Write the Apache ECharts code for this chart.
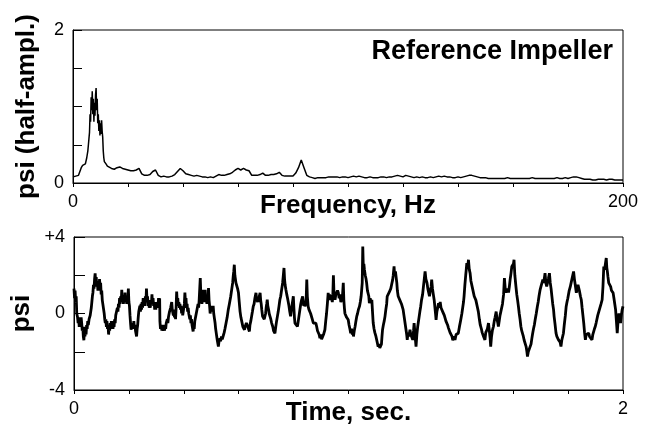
<!DOCTYPE html>
<html>
<head>
<meta charset="utf-8">
<script src="https://cdn.jsdelivr.net/npm/echarts@6/dist/echarts.min.js"></script>
<style>html,body{margin:0;padding:0;background:#fff;}#c{width:645px;height:428px;}</style>
</head>
<body>
<div id="c"></div>
<script>
// Spectrum: [frequency Hz, psi half-amplitude]
const spectrum = [
[0,0.08],[1,0.09],[2,0.10],[3,0.20],[3.5,0.23],[4,0.22],[4.5,0.25],[5,0.33],
[5.4,0.42],[5.6,0.50],[5.8,0.58],[6.0,0.66],[6.2,0.90],[6.4,0.80],[6.6,1.12],[6.8,0.95],[7.0,1.20],[7.2,0.90],
[7.4,1.10],[7.6,0.80],[7.8,1.05],[8.0,0.88],[8.2,1.15],[8.4,1.24],[8.6,0.95],[8.8,1.10],[9.0,0.78],[9.2,0.90],
[9.4,0.68],[9.6,0.82],[9.8,0.62],[10.0,0.78],[10.2,0.64],[10.4,0.82],[10.6,0.68],[10.8,0.60],[11.0,0.42],[11.2,0.33],[11.4,0.28],
[12,0.25],[12.5,0.22],[13,0.21],[14,0.19],[15,0.18],[16,0.20],[17,0.21],[18,0.19],[19,0.18],[20,0.17],
[21,0.16],[22,0.16],[23,0.17],[24,0.19],[25,0.12],[26,0.10],[27,0.10],[28,0.11],[29,0.15],[30,0.17],
[31,0.10],[32,0.08],[33,0.09],[34,0.08],[35,0.08],[36,0.09],[37,0.11],[38,0.15],[39,0.19],[40,0.16],
[41,0.12],[42,0.11],[43,0.10],[44,0.09],[45,0.10],[46,0.09],[47,0.08],[48,0.08],[49,0.07],[50,0.08],
[51,0.07],[52,0.09],[53,0.11],[54,0.10],[55,0.10],[56,0.11],[57,0.12],[58,0.14],[59,0.17],[60,0.19],
[61,0.17],[62,0.19],[63,0.17],[64,0.16],[65,0.10],[66,0.10],[67,0.10],[68,0.11],[69,0.13],[70,0.10],
[71,0.10],[72,0.11],[73,0.11],[74,0.12],[75,0.14],[76,0.10],[77,0.09],[78,0.09],[79,0.09],[80,0.09],
[81,0.13],[82,0.20],[83,0.30],[84,0.20],[85,0.10],[86,0.08],[87,0.07],[88,0.06],[89,0.07],[90,0.07],
[91,0.07],[92,0.07],[93,0.08],[94,0.08],[95,0.08],[96,0.08],[97,0.07],[98,0.08],[99,0.08],[100,0.07],
[101,0.08],[102,0.09],[103,0.08],[104,0.09],[105,0.08],[106,0.07],[107,0.07],[108,0.08],[109,0.07],[110,0.07],
[111,0.07],[112,0.08],[113,0.08],[114,0.07],[115,0.08],[116,0.08],[117,0.09],[118,0.10],[119,0.09],[120,0.08],
[121,0.10],[122,0.09],[123,0.08],[124,0.07],[125,0.08],[126,0.07],[127,0.08],[128,0.07],[129,0.07],[130,0.08],
[131,0.07],[132,0.08],[133,0.09],[134,0.08],[135,0.09],[136,0.08],[137,0.08],[138,0.07],[139,0.07],[140,0.08],
[141,0.07],[142,0.08],[143,0.09],[144,0.10],[145,0.10],[146,0.09],[147,0.08],[148,0.07],[149,0.07],[150,0.07],
[151,0.06],[152,0.06],[153,0.06],[154,0.06],[155,0.06],[156,0.06],[157,0.06],[158,0.07],[159,0.06],[160,0.06],
[161,0.06],[162,0.06],[163,0.06],[164,0.06],[165,0.06],[166,0.06],[167,0.07],[168,0.06],[169,0.06],[170,0.06],
[171,0.06],[172,0.06],[173,0.06],[174,0.06],[175,0.06],[176,0.07],[177,0.06],[178,0.06],[179,0.07],[180,0.06],
[181,0.07],[182,0.08],[183,0.08],[184,0.07],[185,0.06],[186,0.05],[187,0.05],[188,0.05],[189,0.04],[190,0.04],
[191,0.05],[192,0.05],[193,0.05],[194,0.04],[195,0.05],[196,0.05],[197,0.04],[198,0.04],[199,0.04],[200,0.04]
];

// Time trace: [time s, psi]
const timeTrace = [
[0,1.3],[0.002,0.8],[0.004,1.2],[0.006,0.6],[0.008,0.9],[0.01,0.0],[0.013,-0.2],[0.015,-0.5],[0.017,-0.2],[0.019,-0.7],[0.022,-0.3],[0.024,-0.6],[0.026,-0.2],[0.028,-0.5],[0.03,-0.9],[0.032,-0.7],[0.034,-1.2],[0.036,-1.4],[0.038,-0.9],[0.04,-1.2],[0.042,-0.7],[0.044,-1.1],[0.046,-0.6],[0.048,-0.8],[0.05,-0.4],[0.052,-0.6],[0.055,-0.3],[0.057,-0.4],[0.059,-0.1],[0.061,0.0],[0.063,0.3],[0.065,0.6],[0.067,0.9],[0.069,1.1],[0.071,1.5],[0.073,1.3],[0.075,1.8],[0.077,2.1],[0.079,1.6],[0.081,1.9],[0.083,1.4],[0.085,1.7],[0.087,1.2],[0.089,1.6],[0.091,1.2],[0.093,1.8],[0.095,1.4],[0.097,1.6],[0.099,1.0],[0.101,1.2],[0.103,0.7],[0.105,0.6],
[0.108,0.2],[0.110,0.0],[0.112,-0.3],[0.114,-0.5],[0.116,-0.3],[0.118,-0.7],[0.12,-0.4],[0.122,-0.8],[0.124,-0.6],[0.126,-1.1],[0.128,-0.7],[0.13,-0.9],[0.132,-0.5],[0.134,-0.8],[0.136,-0.4],[0.138,-0.7],[0.14,-0.4],[0.142,-0.8],[0.144,-0.5],[0.146,-0.7],[0.148,-0.3],[0.15,-0.5],[0.152,-0.1],[0.155,-0.2],[0.158,0.3],[0.16,0.1],[0.162,0.5],[0.164,0.3],[0.166,0.8],[0.168,0.5],[0.17,0.9],[0.172,0.6],[0.174,1.24],[0.176,0.7],[0.178,0.9],[0.18,0.5],[0.182,0.8],[0.184,0.6],[0.186,1.1],[0.188,0.6],[0.19,0.9],[0.192,0.5],[0.194,0.8],[0.196,0.6],[0.198,1.3],[0.2,0.6],[0.202,0.4],[0.204,-0.1],
[0.206,-0.5],[0.208,-0.85],[0.21,-0.6],[0.212,-0.8],[0.214,-0.5],[0.216,-0.7],[0.218,-0.4],[0.22,-0.8],[0.222,-0.6],[0.224,-0.9],[0.226,-1.0],[0.228,-1.2],[0.23,-0.8],[0.232,-0.6],[0.234,-0.2],[0.236,0.1],[0.238,0.0],[0.24,0.4],[0.242,0.1],[0.244,0.5],[0.246,0.2],[0.248,0.6],[0.25,0.3],[0.252,0.8],[0.254,0.4],[0.256,0.7],[0.258,0.4],[0.26,0.9],[0.262,0.6],[0.264,1.3],[0.266,0.7],[0.268,0.9],[0.27,0.4],[0.272,0.7],[0.274,0.3],[0.276,0.6],[0.278,0.3],[0.28,0.7],[0.282,0.5],[0.284,1.0],[0.286,0.5],[0.288,0.8],[0.29,0.4],[0.292,0.6],[0.294,0.2],[0.296,0.5],[0.298,0.2],[0.3,0.6],
[0.302,0.3],[0.304,0.6],[0.306,0.4],[0.308,0.8],[0.31,0.5],[0.312,0.8],[0.313,-0.4],[0.315,-0.8],[0.318,-0.6],[0.32,-0.9],[0.322,-0.6],[0.325,-0.9],[0.328,-0.7],[0.33,-0.9],[0.332,-0.6],[0.334,-0.8],[0.336,-0.5],[0.338,-0.6],[0.34,-0.3],[0.342,-0.5],[0.344,-0.2],[0.346,-0.3],[0.348,0.1],[0.35,0.0],[0.352,0.3],[0.354,0.2],[0.356,0.6],[0.358,0.2],[0.36,0.3],[0.362,-0.1],[0.364,0.2],[0.366,-0.2],[0.368,0.1],[0.37,-0.3],[0.372,0.3],[0.374,1.15],[0.376,0.6],[0.378,0.8],[0.38,0.4],[0.382,0.6],[0.384,0.3],[0.386,0.5],[0.388,0.2],[0.39,0.4],[0.392,0.0],[0.394,0.2],[0.396,-0.1],[0.398,0.1],[0.4,0.0],[0.402,0.5],[0.404,1.1],[0.406,0.6],
[0.408,0.8],[0.41,0.3],[0.412,0.5],[0.414,0.1],[0.416,0.3],[0.418,0.0],[0.42,0.1],[0.422,-0.3],[0.424,-0.1],[0.426,-0.5],[0.428,-0.3],[0.43,-0.6],[0.432,-0.5],[0.434,-0.94],[0.436,-0.6],[0.438,-0.8],[0.44,-0.4],[0.442,-0.5],[0.444,-0.1],[0.446,-0.2],[0.448,0.2],[0.45,0.1],[0.452,0.5],[0.454,0.3],[0.456,0.7],[0.458,0.6],[0.46,1.85],[0.462,1.0],[0.464,0.8],[0.466,0.5],[0.468,0.9],[0.47,1.24],[0.472,0.7],[0.474,0.9],[0.476,0.6],[0.478,1.24],[0.48,0.6],[0.482,0.9],[0.484,0.5],[0.486,0.9],[0.488,0.6],[0.49,1.33],[0.492,0.7],[0.494,0.4],[0.496,0.0],[0.498,0.3],[0.5,0.1],[0.503,0.4],[0.505,0.2],[0.507,0.4],[0.509,0.0],[0.511,-0.2],
[0.514,-0.5],[0.516,-0.8],[0.518,-1.0],[0.52,-1.2],[0.522,-1.4],[0.524,-1.5],[0.526,-1.73],[0.528,-1.5],[0.53,-1.6],[0.532,-1.3],[0.534,-1.45],[0.537,-1.2],[0.54,-1.35],[0.544,-1.15],[0.547,-1.0],[0.55,-0.8],[0.554,-0.5],[0.558,-0.2],[0.562,0.2],[0.566,0.5],[0.571,0.9],[0.575,1.3],[0.578,1.6],[0.58,1.94],[0.582,2.2],[0.584,2.55],[0.586,2.0],[0.588,1.9],[0.59,1.6],[0.593,1.7],[0.596,1.3],[0.599,1.1],[0.602,0.6],[0.605,0.1],[0.608,-0.2],[0.611,-0.4],[0.615,-0.68],
[0.618,-0.6],[0.621,-0.85],[0.623,-0.7],[0.626,-0.8],[0.628,-0.5],[0.63,-0.6],[0.633,-0.7],[0.636,-0.6],[0.639,-0.94],[0.641,-0.6],[0.644,-0.4],[0.647,-0.15],[0.65,0.1],[0.653,0.37],[0.656,0.5],[0.659,0.8],[0.661,0.7],[0.663,1.08],[0.665,0.8],[0.667,0.9],[0.669,0.6],[0.671,0.72],[0.673,0.6],[0.675,0.9],[0.678,1.08],[0.68,0.7],[0.682,0.5],[0.684,0.2],[0.687,-0.15],[0.69,-0.1],[0.693,-0.3],[0.696,-0.33],[0.698,0.0],[0.7,0.3],[0.702,0.5],[0.704,0.72],[0.706,0.4],[0.709,0.2],[0.711,0.0],[0.714,-0.15],
[0.717,-0.3],[0.72,-0.5],[0.722,-0.6],[0.724,-0.68],[0.727,-0.9],[0.73,-0.8],[0.732,-1.03],[0.735,-0.7],[0.738,-0.4],[0.741,-0.15],[0.744,0.1],[0.747,0.4],[0.75,0.72],[0.753,0.9],[0.756,1.2],[0.758,1.4],[0.76,1.6],[0.762,1.9],[0.765,2.38],[0.767,1.8],[0.769,1.5],[0.772,1.24],[0.775,1.0],[0.778,0.8],[0.78,0.72],[0.783,0.4],[0.786,0.1],[0.789,-0.15],[0.792,0.2],[0.795,0.5],[0.797,0.7],[0.799,0.9],[0.801,0.3],[0.803,-0.2],[0.805,-0.5],[0.808,-0.4],[0.811,-0.6],[0.814,-0.68],[0.817,-0.4],[0.82,-0.1],[0.823,0.2],
[0.826,0.5],[0.829,0.7],[0.831,0.6],[0.833,0.9],[0.835,0.6],[0.837,0.4],[0.839,0.6],[0.841,0.37],[0.844,0.5],[0.846,0.8],[0.848,1.77],[0.85,0.9],[0.853,0.37],[0.856,0.2],[0.859,0.3],[0.862,0.0],[0.865,-0.1],[0.868,-0.3],[0.872,-0.5],[0.875,-0.4],[0.878,-0.6],[0.881,-0.5],[0.884,-0.68],[0.887,-0.9],[0.89,-0.8],[0.893,-1.1],[0.896,-1.29],[0.899,-1.1],[0.902,-1.35],[0.906,-1.38],[0.909,-1.1],[0.912,-1.2],[0.914,-0.85],[0.917,-0.4],[0.92,0.0],[0.923,0.5],[0.926,1.08],[0.929,0.7],[0.932,1.0],[0.935,0.7],[0.938,0.9],[0.941,0.6],[0.943,1.0],[0.945,2.0],[0.947,1.1],[0.949,0.9],[0.951,0.72],
[0.954,1.0],[0.957,0.9],[0.96,1.2],[0.963,1.08],[0.966,0.8],[0.969,1.0],[0.972,0.6],[0.975,0.72],[0.978,0.9],[0.981,1.6],[0.983,0.7],[0.985,0.3],[0.987,0.0],[0.99,0.1],[0.993,-0.2],[0.996,-0.1],[0.999,-0.33],[1.002,-0.6],[1.005,-0.8],[1.008,-1.03],[1.011,-0.8],[1.014,-1.1],[1.016,-0.9],[1.018,-1.2],[1.021,-0.9],[1.024,-0.68],[1.027,-0.4],[1.03,-0.15],[1.033,0.0],[1.036,0.2],[1.04,0.37],[1.043,0.6],[1.046,0.9],[1.048,1.24],[1.05,1.6],[1.052,3.5],[1.054,2.4],[1.056,2.6],[1.058,2.29],[1.061,2.0],[1.064,1.8],[1.066,1.6],[1.069,1.2],[1.072,1.3],[1.074,0.9],[1.076,0.54],[1.079,0.8],[1.082,0.6],[1.085,0.72],[1.087,0.2],[1.09,-0.5],
[1.093,-0.8],[1.096,-1.0],[1.1,-1.2],[1.103,-1.4],[1.106,-1.5],[1.108,-1.73],[1.111,-1.6],[1.114,-1.8],[1.117,-1.9],[1.12,-1.6],[1.122,-1.2],[1.124,-0.85],[1.127,-0.6],[1.13,-0.4],[1.133,-0.15],[1.136,0.2],[1.139,0.5],[1.141,0.9],[1.144,0.8],[1.148,1.1],[1.151,1.08],[1.154,1.3],[1.157,1.5],[1.161,1.77],[1.163,2.0],[1.166,2.46],[1.168,2.0],[1.171,2.2],[1.173,2.11],[1.176,1.6],[1.178,1.2],[1.181,0.9],[1.184,1.0],[1.187,0.7],[1.19,0.72],[1.193,0.5],[1.196,0.4],[1.199,0.2],[1.202,-0.1],[1.206,-0.5],
[1.209,-0.8],[1.212,-1.1],[1.214,-1.38],[1.217,-1.0],[1.22,-1.2],[1.224,-0.85],[1.227,-1.1],[1.23,-1.0],[1.234,-1.38],[1.237,-0.9],[1.239,-0.5],[1.242,-1.0],[1.244,-1.4],[1.246,-1.73],[1.249,-1.1],[1.252,-0.7],[1.254,-0.5],[1.257,-0.2],[1.26,0.1],[1.263,0.37],[1.266,0.7],[1.27,1.0],[1.273,1.41],[1.276,1.8],[1.279,2.2],[1.282,1.8],[1.284,1.9],[1.286,1.6],[1.289,1.3],[1.292,1.1],[1.295,0.9],[1.298,1.2],[1.301,1.4],[1.303,1.77],[1.306,1.3],[1.309,1.0],[1.312,0.72],[1.315,0.3],[1.317,0.0],[1.319,-0.33],[1.322,0.1],[1.325,0.3],[1.328,0.54],[1.331,0.3],[1.334,0.6],[1.337,0.3],[1.34,0.37],
[1.343,0.1],[1.346,0.2],[1.349,-0.1],[1.352,-0.15],[1.355,-0.4],[1.358,-0.3],[1.361,-0.6],[1.364,-0.75],[1.367,-0.8],[1.37,-1.0],[1.374,-1.1],[1.377,-1.2],[1.38,-1.4],[1.384,-1.2],[1.388,-1.38],[1.392,-1.1],[1.396,-1.2],[1.4,-1.03],[1.404,-0.7],[1.408,-0.4],[1.413,0.0],[1.416,0.3],[1.419,0.6],[1.421,0.9],[1.424,1.5],[1.427,2.0],[1.429,2.3],[1.431,2.64],[1.434,2.4],[1.437,2.81],[1.44,2.3],[1.443,2.11],[1.446,1.7],[1.449,1.6],[1.452,1.3],[1.455,1.24],[1.458,0.9],[1.461,1.0],[1.464,0.7],[1.467,0.72],[1.47,0.3],[1.473,0.1],[1.477,-0.33],
[1.48,-0.6],[1.484,-0.8],[1.487,-1.0],[1.489,-1.03],[1.492,-1.2],[1.495,-1.1],[1.497,-1.38],[1.5,-1.0],[1.503,-1.1],[1.506,-0.8],[1.51,-0.5],[1.513,-0.9],[1.516,-1.3],[1.518,-1.73],[1.521,-1.2],[1.524,-0.9],[1.528,-0.68],[1.531,-0.4],[1.534,-0.2],[1.538,0.1],[1.541,-0.3],[1.544,-0.5],[1.546,-0.68],[1.549,-0.4],[1.552,-0.1],[1.555,0.1],[1.558,0.0],[1.561,0.5],[1.565,1.0],[1.568,1.85],[1.571,1.3],[1.574,1.1],[1.577,1.08],[1.58,1.3],[1.583,1.1],[1.586,1.41],[1.589,1.8],[1.592,2.1],[1.595,2.46],[1.598,2.4],[1.601,2.6],[1.603,2.81],[1.606,2.0],[1.608,1.7],[1.61,1.41],[1.613,1.0],[1.616,0.7],[1.619,0.37],
[1.622,0.0],[1.625,-0.3],[1.628,-0.68],[1.631,-0.9],[1.634,-1.0],[1.637,-1.2],[1.64,-1.4],[1.644,-1.5],[1.647,-1.73],[1.65,-2.0],[1.652,-2.25],[1.655,-2.0],[1.658,-2.1],[1.662,-1.9],[1.665,-1.6],[1.668,-1.3],[1.671,-1.03],[1.674,-0.8],[1.677,-0.6],[1.68,-0.33],[1.684,0.0],[1.688,0.37],[1.691,0.6],[1.694,0.9],[1.698,1.24],[1.701,1.4],[1.704,1.5],[1.708,1.77],[1.711,1.6],[1.714,1.9],[1.716,2.11],[1.719,1.6],[1.722,1.41],[1.725,1.6],[1.728,1.8],[1.73,1.7],[1.732,2.11],[1.735,1.6],[1.738,1.3],[1.741,0.9],[1.744,0.5],[1.747,0.2],[1.749,-0.15],
[1.752,-0.5],[1.756,-1.03],[1.759,-1.2],[1.762,-1.1],[1.765,-1.38],[1.768,-1.3],[1.771,-1.5],[1.774,-1.73],[1.777,-1.4],[1.78,-1.3],[1.783,-1.03],[1.786,-0.6],[1.79,-0.1],[1.793,0.37],[1.796,0.6],[1.799,0.8],[1.801,0.9],[1.804,1.2],[1.808,1.4],[1.811,1.6],[1.814,1.8],[1.817,2.0],[1.82,2.2],[1.823,1.8],[1.826,1.5],[1.83,1.08],[1.833,1.3],[1.836,1.5],[1.838,1.6],[1.841,1.2],[1.845,0.9],[1.848,0.72],[1.851,0.3],[1.854,-0.1],[1.857,-0.5],[1.86,-1.0],[1.863,-1.38],
[1.866,-1.1],[1.869,-1.2],[1.872,-1.0],[1.875,-1.03],[1.878,-1.2],[1.881,-1.1],[1.884,-1.3],[1.887,-1.38],[1.89,-1.1],[1.893,-1.0],[1.896,-0.8],[1.899,-0.68],[1.902,-0.5],[1.905,-0.3],[1.908,-0.1],[1.911,0.0],[1.914,0.2],[1.917,0.3],[1.92,0.5],[1.924,0.72],[1.927,1.4],[1.93,2.46],[1.933,2.3],[1.936,2.6],[1.939,2.9],[1.941,2.4],[1.943,2.2],[1.945,1.94],[1.948,1.6],[1.951,1.7],[1.955,1.41],[1.958,1.2],[1.961,1.3],[1.964,1.08],[1.967,0.8],[1.97,0.5],[1.973,0.2],[1.976,-0.4],[1.979,-1.03],[1.982,-0.4],[1.985,0.0],[1.988,-0.3],[1.991,-0.5],[1.994,-0.1],[1.997,0.2],[2.0,0.37]
];

const freqLabels = {0:'0', 200:'200'};
const ampLabels = {0:'0', 2:'2'};
const timeLabels = {0:'0', 2:'2'};
const psiLabels = {'-4':'-4', '0':'0', '4':'+4'};

const FONT = "'Liberation Sans', Arial, Helvetica, sans-serif";
const chart = echarts.init(document.getElementById('c'), null, {renderer:'canvas'});

function xAxisCfg(gridIndex, max, interval, labels, name) {
  return {
    type:'value', gridIndex, position:'bottom', min:0, max, interval,
    name, nameLocation:'middle', nameGap:10, nameMoveOverlap:false,
    nameTextStyle:{fontFamily:FONT, fontSize:26, fontWeight:'bold', color:'#000'},
    axisLine:{show:true, onZero:false, lineStyle:{color:'#000', width:1}},
    axisTick:{show:true, inside:false, length:4, lineStyle:{color:'#000', width:1}},
    axisLabel:{show:true, margin:10, fontFamily:FONT, fontSize:18, color:'#000',
      formatter:v => (labels[v] !== undefined ? labels[v] : ''),
      showMinLabel:true, showMaxLabel:true},
    splitLine:{show:false}
  };
}
function yAxisCfg(gridIndex, min, max, interval, labels, name, nameGap, tickLen) {
  return {
    type:'value', gridIndex, position:'left', min, max, interval,
    name, nameLocation:'middle', nameGap, nameRotate:90, nameMoveOverlap:false,
    nameTextStyle:{fontFamily:FONT, fontSize:26, fontWeight:'bold', color:'#000'},
    axisLine:{show:true, onZero:false, lineStyle:{color:'#000', width:1}},
    axisTick:{show:true, inside:true, length:tickLen, lineStyle:{color:'#000'}},
    axisLabel:{show:true, margin:9, fontFamily:FONT, fontSize:18, color:'#000',
      formatter:v => (labels[String(v)] !== undefined ? labels[String(v)] : ''),
      showMinLabel:true, showMaxLabel:true},
    splitLine:{show:false}
  };
}

chart.setOption({
  animation:false,
  backgroundColor:'#fff',
  title:{text:'Reference Impeller', right:27, top:33,
    textStyle:{fontFamily:FONT, fontSize:27, fontWeight:'bold', color:'#000'}},
  grid:[
    {left:73, right:22, top:30, height:153, show:true, borderColor:'#000', borderWidth:1,
     containLabel:false, outerBoundsMode:'none'},
    {left:74, right:22, top:237, height:153, show:true, borderColor:'#000', borderWidth:1,
     containLabel:false, outerBoundsMode:'none'}
  ],
  xAxis:[
    xAxisCfg(0, 200, 20, freqLabels, 'Frequency, Hz'),
    xAxisCfg(1, 2, 0.2, timeLabels, 'Time, sec.')
  ],
  yAxis:[
    yAxisCfg(0, 0, 2, 0.5, ampLabels, 'psi (half-ampl.)', 33, 9),
    yAxisCfg(1, -4, 4, 2, psiLabels, 'psi', 39, 11)
  ],
  series:[
    {type:'line', xAxisIndex:0, yAxisIndex:0, data:spectrum, showSymbol:false, symbol:'none',
     lineStyle:{color:'#000', width:1.5}, silent:true},
    {type:'line', xAxisIndex:1, yAxisIndex:1, data:timeTrace, showSymbol:false, symbol:'none',
     lineStyle:{color:'#000', width:2.8}, silent:true}
  ]
});
</script>
</body>
</html>
